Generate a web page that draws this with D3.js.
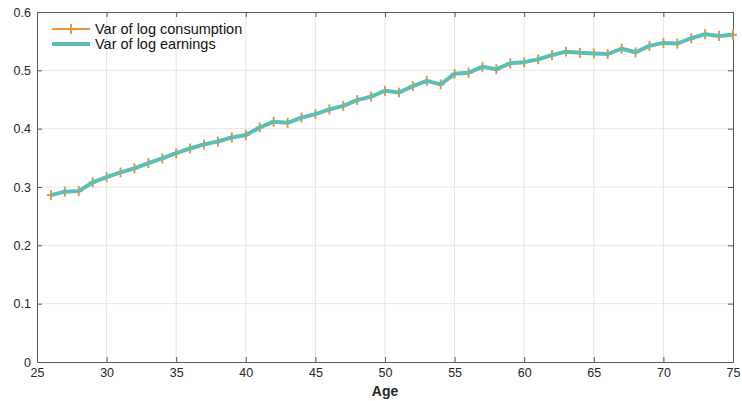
<!DOCTYPE html>
<html><head><meta charset="utf-8">
<script src="https://cdn.jsdelivr.net/npm/d3@7"></script>
<style>body{margin:0;background:#fff}svg{display:block}</style>
</head><body>
<script>
const ages = d3.range(26, 76);
const consumption = [0.286,0.292,0.293,0.308,0.317,0.325,0.332,0.341,0.349,0.358,
0.366,0.373,0.378,0.385,0.389,0.402,0.412,0.410,0.419,0.425,
0.433,0.439,0.449,0.455,0.465,0.462,0.473,0.482,0.476,0.494,
0.496,0.506,0.502,0.512,0.514,0.519,0.526,0.532,0.530,0.529,
0.528,0.537,0.531,0.542,0.547,0.546,0.555,0.562,0.559,0.561];
const earnings = [0.286,0.292,0.293,0.308,0.317,0.325,0.332,0.341,0.349,0.358,
0.366,0.373,0.378,0.385,0.389,0.402,0.412,0.410,0.419,0.425,
0.433,0.439,0.449,0.455,0.465,0.462,0.473,0.482,0.476,0.494,
0.496,0.506,0.502,0.512,0.514,0.519,0.526,0.532,0.530,0.529,
0.528,0.537,0.531,0.542,0.547,0.546,0.555,0.562,0.559,0.561];
const xTicks = [25,30,35,40,45,50,55,60,65,70,75];
const yTicks = [0,0.1,0.2,0.3,0.4,0.5,0.6];
const seriesNames = ["Var of log consumption","Var of log earnings"];

const W=742,H=401, L=37,R=733,T=12,B=362;
const svg=d3.select("body").append("svg").attr("width",W).attr("height",H)
  .style("font-family","Liberation Sans, Arial, sans-serif");
const x=d3.scaleLinear().domain([25,75]).range([L,R]);
const y=d3.scaleLinear().domain([0,0.6]).range([B,T]);

// grid
svg.append("g").selectAll("line").data(xTicks.slice(1,-1)).join("line")
  .attr("x1",d=>x(d)).attr("x2",d=>x(d)).attr("y1",T).attr("y2",B)
  .attr("stroke","#e6e6e6").attr("stroke-width",1);
svg.append("g").selectAll("line").data(yTicks.slice(1,-1)).join("line")
  .attr("y1",d=>y(d)).attr("y2",d=>y(d)).attr("x1",L).attr("x2",R)
  .attr("stroke","#e6e6e6").attr("stroke-width",1);

// axes
const axCol="#5a5a5a";
const gx=svg.append("g").attr("transform",`translate(0,${B})`)
  .call(d3.axisBottom(x).tickValues(xTicks).tickFormat(d3.format("d")).tickSizeInner(-5).tickSizeOuter(0).tickPadding(6));
const gxt=svg.append("g").attr("transform",`translate(0,${T})`)
  .call(d3.axisTop(x).tickValues(xTicks).tickFormat("").tickSizeInner(-5).tickSizeOuter(0));
const gy=svg.append("g").attr("transform",`translate(${L},0)`)
  .call(d3.axisLeft(y).tickValues(yTicks).tickFormat(d=>d===0?"0":d3.format(".1f")(d)).tickSizeInner(-5).tickSizeOuter(0).tickPadding(6));
const gyr=svg.append("g").attr("transform",`translate(${R},0)`)
  .call(d3.axisRight(y).tickValues(yTicks).tickFormat("").tickSizeInner(-5).tickSizeOuter(0));
[gx,gxt,gy,gyr].forEach(g=>{
  g.select(".domain").attr("stroke",axCol).attr("stroke-width",1);
  g.selectAll(".tick line").attr("stroke",axCol);
  g.selectAll("text").attr("fill","#262626").style("font-size","12.5px");
});

// lines
const cons = ages.map((a,i)=>[a,consumption[i]]);
const earn = ages.map((a,i)=>[a,earnings[i]]);
const line=d3.line().x(d=>x(d[0])).y(d=>y(d[1]));
const orange="#f39232", teal="#5bbfb5";
svg.append("path").datum(cons).attr("d",line).attr("fill","none").attr("stroke",orange).attr("stroke-width",1.5);
const plus=svg.append("g");
cons.forEach(d=>{
  const cx=x(d[0]), cy=y(d[1]);
  plus.append("line").attr("x1",cx-4).attr("x2",cx+4).attr("y1",cy).attr("y2",cy).attr("stroke",orange).attr("stroke-width",2);
  plus.append("line").attr("x1",cx).attr("x2",cx).attr("y1",cy-5).attr("y2",cy+5).attr("stroke",orange).attr("stroke-width",2);
});
svg.append("path").datum(earn).attr("d",line).attr("fill","none").attr("stroke",teal).attr("stroke-width",4).attr("stroke-linejoin","round");

// x label
svg.append("text").attr("x",(L+R)/2).attr("y",396).attr("text-anchor","middle")
  .style("font-size","14px").style("font-weight","bold").attr("fill","#262626").text("Age");

// legend
const lg=svg.append("g");
lg.append("line").attr("x1",52).attr("x2",90).attr("y1",29).attr("y2",29).attr("stroke",orange).attr("stroke-width",2);
lg.append("line").attr("x1",71).attr("x2",71).attr("y1",24).attr("y2",34).attr("stroke",orange).attr("stroke-width",2);
lg.append("line").attr("x1",52).attr("x2",90).attr("y1",44).attr("y2",44).attr("stroke",teal).attr("stroke-width",4);
lg.append("text").attr("x",95).attr("y",34).style("font-size","14.5px").attr("fill","#111").text(seriesNames[0]);
lg.append("text").attr("x",95).attr("y",49).style("font-size","14.5px").attr("fill","#111").text(seriesNames[1]);
</script>
</body></html>
